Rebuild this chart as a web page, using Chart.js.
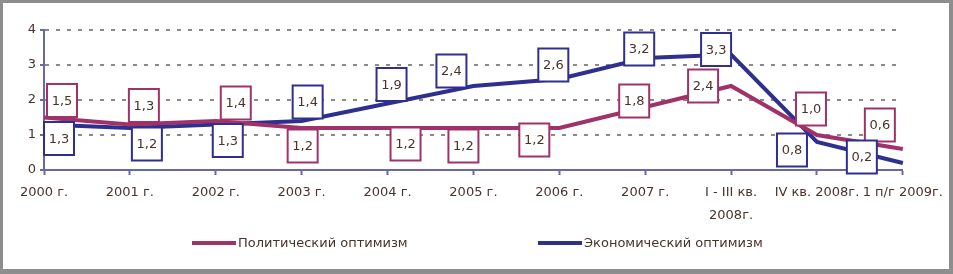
<!DOCTYPE html>
<html>
<head>
<meta charset="utf-8">
<script src="https://cdn.jsdelivr.net/npm/chart.js@4.4.0/dist/chart.umd.min.js"></script>
<style>
  html, body { margin: 0; padding: 0; background: #8e8e8e; }
  #frame { position: absolute; left: 3px; top: 3px; width: 946px; height: 266px; background: #fff; }
  #chart { display: block; }
</style>
</head>
<body>
<div id="frame"><canvas id="chart" width="946" height="266"></canvas></div>
<script>
// категории по оси X
const periods = ["2000 г.", "2001 г.", "2002 г.", "2003 г.", "2004 г.", "2005 г.", "2006 г.", "2007 г.",
  ["I - III кв.", "2008г."], "IV кв. 2008г.", "1 п/г 2009г."];

const politicalOptimism = [1.5, 1.3, 1.4, 1.2, 1.2, 1.2, 1.2, 1.8, 2.4, 1.0, 0.6];
const economicOptimism = [1.3, 1.2, 1.3, 1.4, 1.9, 2.4, 2.6, 3.2, 3.3, 0.8, 0.2];

const yTicks = [0, 1, 2, 3, 4];

// смещения подписей относительно точки (px)
const politicalLabelShift = [[18, -17], [14, -19], [20, -18], [1, 18], [18, 16], [-10, 18], [-25, 12], [-11, -6], [-28, 0], [-6, -26], [-23, -24]];
const economicLabelShift = [[15, 14], [17, 16], [12, 16], [6, -19], [4, -19], [-22, -15], [-6, -14], [-6, -9], [-15, -5], [-25, 8], [-41, -6]];

const COLOR_POL = "#a0326a";
const COLOR_ECO = "#2e2f8f";
const COLOR_AXIS = "#6a68a4";
const COLOR_TEXT = "#4a3328";
const FONT = "'DejaVu Sans', sans-serif";

const valueBoxes = {
  id: "valueBoxes",
  afterDatasetsDraw(chart) {
    const ctx = chart.ctx;
    const shifts = [politicalLabelShift, economicLabelShift];
    chart.data.datasets.forEach((ds, di) => {
      const meta = chart.getDatasetMeta(di);
      meta.data.forEach((pt, i) => {
        const [dx, dy] = shifts[di][i];
        const cx = pt.x + dx, cy = pt.y + dy;
        const w = 30, h = 33;
        ctx.save();
        ctx.fillStyle = "#fff";
        ctx.fillRect(cx - w / 2, cy - h / 2, w, h);
        ctx.lineWidth = 2;
        ctx.strokeStyle = ds.borderColor;
        ctx.strokeRect(cx - w / 2, cy - h / 2, w, h);
        ctx.fillStyle = COLOR_TEXT;
        ctx.font = "13px " + FONT;
        ctx.textAlign = "center";
        ctx.textBaseline = "middle";
        ctx.fillText(ds.data[i].toFixed(1).replace(".", ","), cx, cy + 1);
        ctx.restore();
      });
    });
  }
};

// легенда внизу: две позиции
const lineLegend = {
  id: "lineLegend",
  afterDraw(chart) {
    const ctx = chart.ctx;
    const starts = [189, 535];
    const y = 240;
    ctx.save();
    ctx.font = "13px " + FONT;
    ctx.textBaseline = "middle";
    chart.data.datasets.forEach((ds, i) => {
      const x = starts[i];
      ctx.fillStyle = ds.borderColor;
      ctx.fillRect(x, y - 2, 44, 4);
      ctx.fillStyle = COLOR_TEXT;
      ctx.fillText(ds.label, x + 46, y + 1);
    });
    ctx.restore();
  }
};

new Chart(document.getElementById("chart"), {
  type: "line",
  data: {
    labels: periods,
    datasets: [
      {
        label: "Политический оптимизм",
        data: politicalOptimism,
        borderColor: COLOR_POL,
        backgroundColor: COLOR_POL,
        borderWidth: 4,
        pointRadius: 0,
        tension: 0
      },
      {
        label: "Экономический оптимизм",
        data: economicOptimism,
        borderColor: COLOR_ECO,
        backgroundColor: COLOR_ECO,
        borderWidth: 4,
        pointRadius: 0,
        tension: 0
      }
    ]
  },
  options: {
    responsive: false,
    animation: false,
    layout: { padding: { left: 0, right: 46, top: 27, bottom: 43 } },
    plugins: {
      tooltip: { enabled: false },
      legend: { display: false }
    },
    scales: {
      x: {
        offset: false,
        grid: { drawOnChartArea: false, drawTicks: true, tickLength: 5, tickColor: COLOR_AXIS, tickWidth: 2 },
        border: { color: COLOR_AXIS, width: 2 },
        ticks: { color: COLOR_TEXT, font: { family: FONT, size: 13, lineHeight: 1.75 }, maxRotation: 0, autoSkip: false, padding: 6 },
        afterFit(scale) { scale.height = 56; }
      },
      y: {
        min: 0,
        max: 4,
        afterBuildTicks(scale) { scale.ticks = yTicks.map(v => ({ value: v })); },
        grid: {
          color: c => (c.tick && c.tick.value === 0 ? "rgba(0,0,0,0)" : "#8a8a8a"),
          lineWidth: 2,
          drawTicks: true,
          tickLength: 4,
          tickColor: COLOR_AXIS,
          tickWidth: 2
        },
        border: { color: COLOR_AXIS, width: 2, dash: [4, 7] },
        ticks: { color: COLOR_TEXT, font: { family: FONT, size: 13 }, padding: 4, autoSkip: false },
        afterFit(scale) { scale.width = 41; }
      }
    }
  },
  plugins: [valueBoxes, lineLegend]
});
</script>
</body>
</html>
